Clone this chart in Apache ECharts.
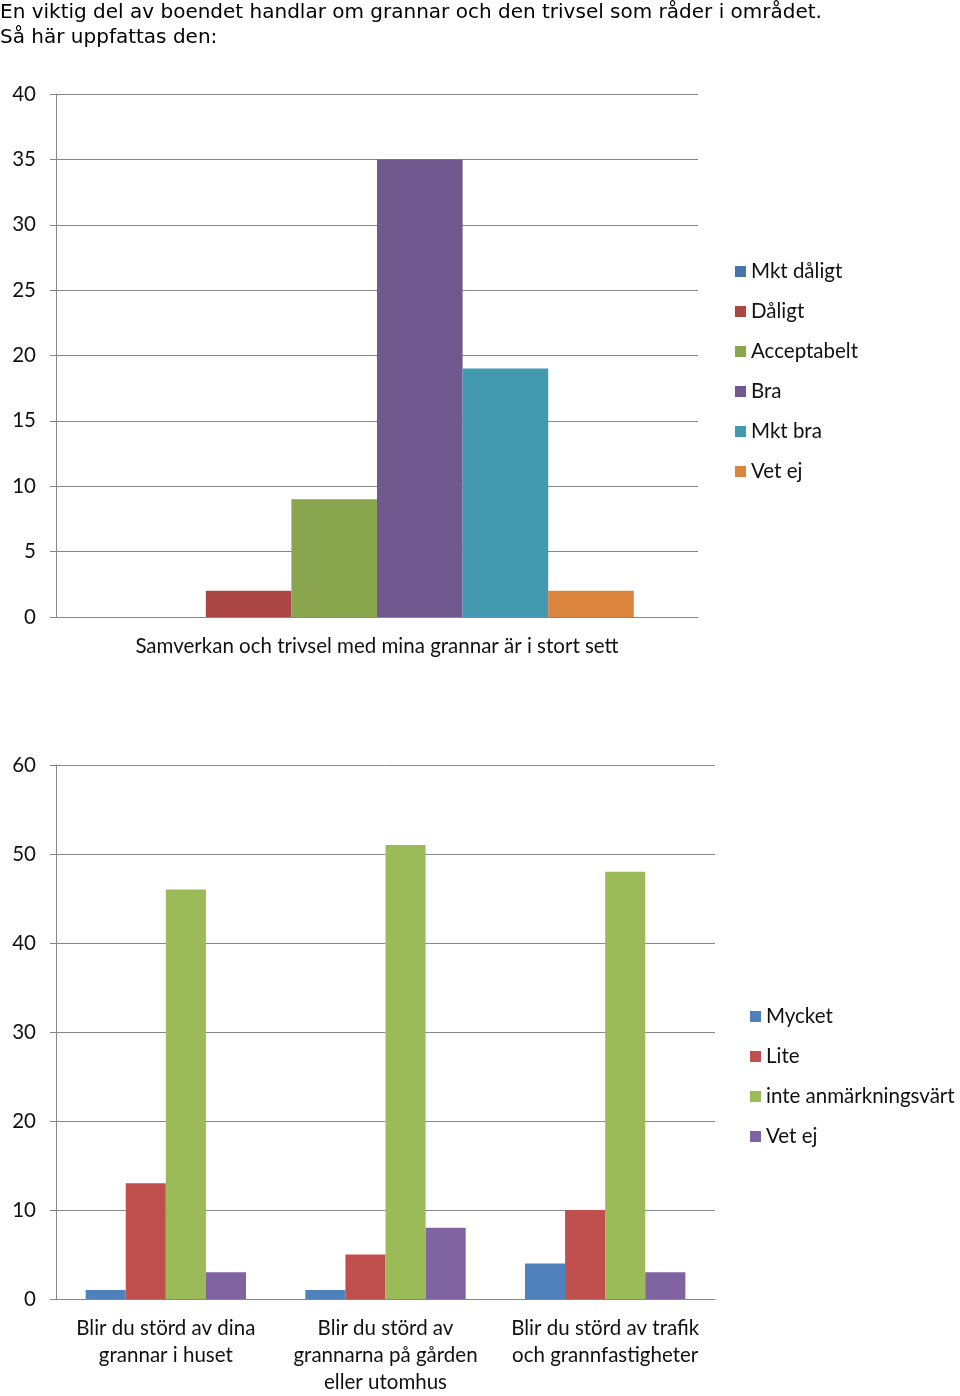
<!DOCTYPE html>
<html><head><meta charset="utf-8">
<script src="https://cdn.jsdelivr.net/npm/echarts@6/dist/echarts.min.js"></script>
<style>html,body{margin:0;padding:0;background:#fff;overflow:hidden}#c{width:960px;height:1396px}</style>
</head><body><div id="c"></div>
<script>
const titleText = "En viktig del av boendet handlar om grannar och den trivsel som råder i området.\nSå här uppfattas den:";
const cat1 = ["Samverkan och trivsel med mina grannar är i stort sett"];
const names1 = ["Mkt dåligt", "Dåligt", "Acceptabelt", "Bra", "Mkt bra", "Vet ej"];
const values1 = [0, 2, 9, 35, 19, 2];
const colors1 = ["#4674ac", "#aa4744", "#89a54e", "#71598f", "#4299b0", "#db843d"];
const yTicks1 = {min: 0, max: 40, interval: 5};

const cat2 = ["Blir du störd av dina\ngrannar i huset", "Blir du störd av\ngrannarna på gården\neller utomhus", "Blir du störd av trafik\noch grannfastigheter"];
const names2 = ["Mycket", "Lite", "inte anmärkningsvärt", "Vet ej"];
const mycket = [1, 1, 4];
const lite = [13, 5, 10];
const inte = [46, 51, 48];
const vetej2 = [3, 8, 3];
const colors2 = ["#4f81bd", "#c0504d", "#9bbb59", "#8064a2"];
const yTicks2 = {min: 0, max: 60, interval: 10};

const FONT = "Lato";
const FS = 20.5;
const grey = "#888888";
const chart = echarts.init(document.getElementById('c'), null, {renderer: 'canvas'});

function yAxis(gi, t) {
  return {type: 'value', gridIndex: gi, min: t.min, max: t.max, interval: t.interval,
    axisLine: {show: true, lineStyle: {color: grey}},
    axisTick: {show: true, length: 6, lineStyle: {color: grey}},
    splitLine: {lineStyle: {color: grey}},
    axisLabel: {color: '#111', fontFamily: FONT, fontSize: FS, margin: 20}};
}
function xAxis(gi, data) {
  return {type: 'category', gridIndex: gi, data: data,
    axisLine: {lineStyle: {color: grey}},
    axisTick: {length: 6, lineStyle: {color: grey}},
    axisLabel: {color: '#111', fontFamily: FONT, fontSize: FS, margin: 16, lineHeight: 27, interval: 0}};
}

const series = [];
names1.forEach((n, i) => series.push({name: n, type: 'bar', xAxisIndex: 0, yAxisIndex: 0,
  data: [values1[i]], itemStyle: {color: colors1[i]}, barGap: '0%', barCategoryGap: '20%'}));
const vals2 = [mycket, lite, inte, vetej2];
names2.forEach((n, i) => series.push({name: n, type: 'bar', xAxisIndex: 1, yAxisIndex: 1,
  data: vals2[i], itemStyle: {color: colors2[i]}, barGap: '0%', barCategoryGap: '27%'}));

function legend(names, colors, left, top) {
  return {orient: 'vertical', left: left, top: top, padding: 0, itemWidth: 11, itemHeight: 11, itemGap: 19,
    itemTextGap: 6, selectedMode: false,
    textStyle: {fontFamily: FONT, fontSize: FS, color: '#111', lineHeight: 20},
    data: names.map((n, i) => ({name: n, icon: 'rect', itemStyle: {color: colors[i]}}))};
}

chart.setOption({
  animation: false,
  title: {text: titleText, left: 0, top: 0, padding: 0,
    textStyle: {fontFamily: 'DejaVu Sans', fontSize: 20, fontWeight: 'normal', color: '#000', lineHeight: 25}},
  grid: [
    {left: 56, top: 94, width: 642, height: 523},
    {left: 56, top: 765, width: 659, height: 537}
  ],
  xAxis: [xAxis(0, cat1), xAxis(1, cat2)],
  yAxis: [yAxis(0, yTicks1), yAxis(1, yTicks2)],
  legend: [legend(names1, colors1, 735, 261), legend(names2, colors2, 750, 1006)],
  series: series
});
</script></body></html>
